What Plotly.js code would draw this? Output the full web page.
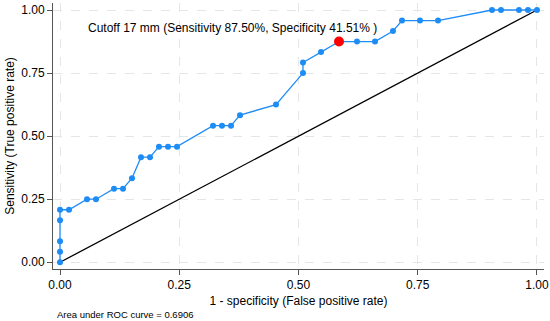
<!DOCTYPE html>
<html>
<head>
<meta charset="utf-8">
<script src="https://cdn.plot.ly/plotly-3.0.1.min.js"></script>
<style>html,body{margin:0;padding:0;background:#fff;}#chart{width:550px;height:321px;}</style>
</head>
<body>
<div id="chart"></div>
<script>
// 1 - specificity (false positive rate)
var fpr = [0, 0, 0, 0, 0, 0.0189, 0.0566, 0.0755, 0.1132, 0.1321, 0.1509, 0.1698, 0.1887, 0.2075, 0.2264, 0.2453,
           0.3208, 0.3396, 0.3585, 0.3774, 0.4528, 0.5094, 0.5094, 0.5472, 0.5849, 0.6226, 0.6604, 0.6981, 0.7170,
           0.7547, 0.7925, 0.9057, 0.9245, 0.9623, 0.9811, 1.0];
// sensitivity (true positive rate)
var tpr = [0, 0.0417, 0.0833, 0.1667, 0.2083, 0.2083, 0.25, 0.25, 0.2917, 0.2917, 0.3333, 0.4167, 0.4167, 0.4583, 0.4583, 0.4583,
           0.5417, 0.5417, 0.5417, 0.5833, 0.625, 0.75, 0.7917, 0.8333, 0.875, 0.875, 0.875, 0.9167, 0.9583,
           0.9583, 0.9583, 1, 1, 1, 1, 1];
var refX = [0, 1];
var refY = [0, 1];
var cutoffX = [0.5849];
var cutoffY = [0.875];
var tickVals = [0, 0.25, 0.5, 0.75, 1];
var tickText = ["0.00", "0.25", "0.50", "0.75", "1.00"];
var cutoffLabel = "Cutoff 17 mm (Sensitivity 87.50%, Specificity 41.51% )";
var aucLabel = "Area under ROC curve = 0.6906";

var traces = [
  {x: refX, y: refY, mode: "lines", line: {color: "#000000", width: 1.3}, hoverinfo: "skip"},
  {x: fpr, y: tpr, mode: "lines+markers", line: {color: "#1E8CF5", width: 1.3},
   marker: {color: "#1E8CF5", size: 6}},
  {x: cutoffX, y: cutoffY, mode: "markers", marker: {color: "#FF0000", size: 10}}
];

var axisCommon = {
  tickvals: tickVals, ticktext: tickText,
  showline: true, linecolor: "#555555", linewidth: 1,
  ticks: "outside", ticklen: 5, tickcolor: "#555555", tickwidth: 1,
  showgrid: true, gridcolor: "#e6e6e6", griddash: "dash", gridwidth: 1,
  zeroline: false, mirror: false,
  tickfont: {family: "Liberation Sans, Arial, sans-serif", size: 12, color: "#000"}
};

var layout = {
  width: 550, height: 321,
  margin: {l: 53, r: 6, t: 3, b: 52},
  paper_bgcolor: "#ffffff", plot_bgcolor: "#ffffff",
  showlegend: false,
  font: {family: "Liberation Sans, Arial, sans-serif", color: "#000"},
  xaxis: Object.assign({}, axisCommon, {
    range: [-0.0147, 1.0147],
    title: {text: "1 - specificity (False positive rate)", font: {size: 12, color: "#000"}, standoff: 5}
  }),
  yaxis: Object.assign({}, axisCommon, {
    range: [-0.0266, 1.0278],
    title: {text: "Sensitivity (True positive rate)", font: {size: 12, color: "#000"}, standoff: 4}
  }),
  annotations: [
    {x: 0.0545, y: 0.9286, xref: "x", yref: "y", text: cutoffLabel, showarrow: false,
     xanchor: "left", yanchor: "middle", font: {size: 12, color: "#000"}},
    {x: 0.004, y: -0.172, xref: "paper", yref: "paper", text: aucLabel, showarrow: false,
     xanchor: "left", yanchor: "middle", font: {size: 9.5, color: "#000"}}
  ]
};

Plotly.newPlot("chart", traces, layout, {displayModeBar: false, staticPlot: true});
</script>
</body>
</html>
